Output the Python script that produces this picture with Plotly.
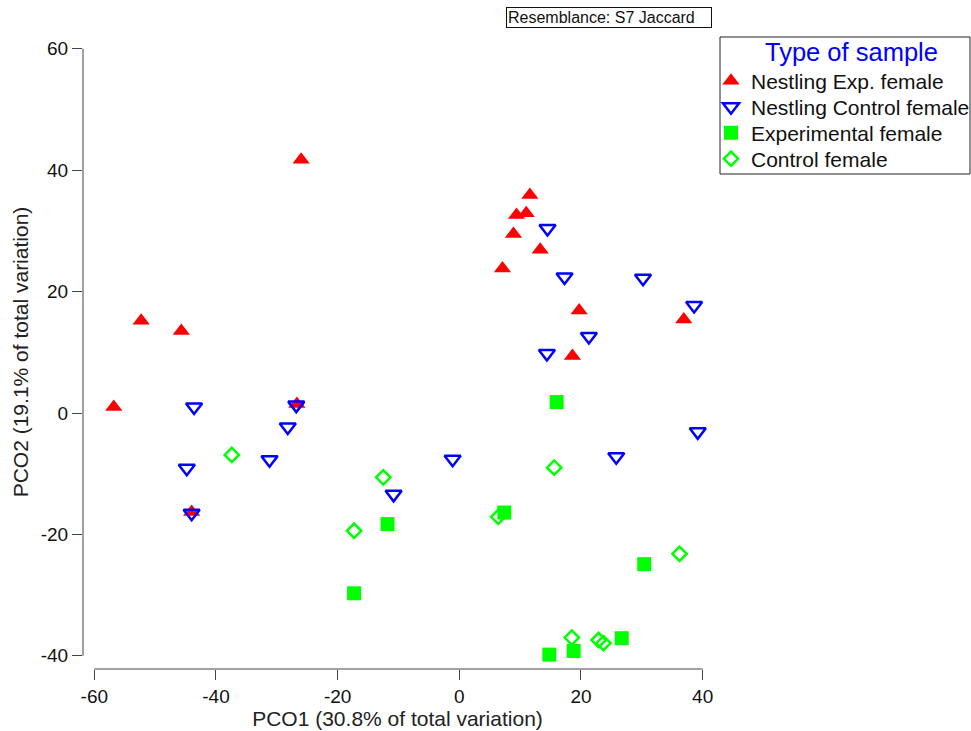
import plotly.graph_objects as go

# PCO ordination scores per sample group
nestling_exp_x = [-26.0, -52.3, -45.7, -56.8, -26.7, -44.0, 11.6, 9.4, 11.0, 8.9, 13.3, 7.1, 19.7, 18.6, 36.9]
nestling_exp_y = [41.7, 15.2, 13.5, 1.0, 1.5, -16.3, 35.9, 32.6, 32.9, 29.5, 26.9, 23.8, 16.9, 9.4, 15.4]

nestling_ctrl_x = [-43.6, -44.8, -44.0, -26.8, -28.2, -31.2, -1.1, -10.8, 25.8, 39.2, 14.5, 17.3, 30.2, 38.6, 21.3, 14.4]
nestling_ctrl_y = [1.0, -9.1, -16.5, 1.3, -2.3, -7.7, -7.6, -13.4, -7.2, -3.1, 30.4, 22.4, 22.2, 17.7, 12.6, 9.8]

exp_female_x = [16.0, 7.4, -11.8, -17.3, 30.4, 26.7, 18.8, 14.8]
exp_female_y = [1.8, -16.4, -18.3, -29.7, -24.9, -37.1, -39.2, -39.8]

ctrl_female_x = [-37.4, -17.3, -12.5, 15.6, 6.4, 36.2, 18.5, 22.9, 23.7]
ctrl_female_y = [-6.9, -19.4, -10.6, -9.0, -17.1, -23.2, -37.0, -37.4, -37.9]

group_names = ["Nestling Exp. female", "Nestling Control female", "Experimental female", "Control female"]
x_tick_values = [-60, -40, -20, 0, 20, 40]
y_tick_values = [-40, -20, 0, 20, 40, 60]

W, H = 971, 731
ML, MR, MT, MB = 83, 259, 35, 62
PW, PH = W - ML - MR, H - MT - MB
X_RANGE = [-61.86, 41.54]
Y_RANGE = [-42.17, 62.27]

FONT = "Liberation Sans, Arial, sans-serif"

# one legend box per group so rows can sit at a fixed pitch
LEGEND_ROW_Y = [81, 107, 133, 159]
LEGEND_KEYS = ["legend", "legend2", "legend3", "legend4"]


def px_to_paper_x(px):
    return (px - ML) / PW


def px_to_paper_y(py):
    return (H - MB - py) / PH


def hyphen_labels(vals):
    return [str(v) for v in vals]


fig = go.Figure()

fig.add_trace(go.Scatter(
    x=nestling_exp_x, y=nestling_exp_y, mode="markers", name=group_names[0],
    legend=LEGEND_KEYS[0],
    marker=dict(symbol="triangle-up", size=15, color="#ff0000", line=dict(width=0)),
))
fig.add_trace(go.Scatter(
    x=nestling_ctrl_x, y=nestling_ctrl_y, mode="markers", name=group_names[1],
    legend=LEGEND_KEYS[1],
    marker=dict(symbol="triangle-down-open", size=14, color="#0000ff", line=dict(width=2.5)),
))
fig.add_trace(go.Scatter(
    x=exp_female_x, y=exp_female_y, mode="markers", name=group_names[2],
    legend=LEGEND_KEYS[2],
    marker=dict(symbol="square", size=14, color="#00ff00", line=dict(width=0)),
))
fig.add_trace(go.Scatter(
    x=ctrl_female_x, y=ctrl_female_y, mode="markers", name=group_names[3],
    legend=LEGEND_KEYS[3],
    marker=dict(symbol="diamond-open", size=11, color="#00ff00", line=dict(width=2.5)),
))

axis_common = dict(
    showgrid=False, zeroline=False, showline=False,
    ticks="outside", ticklen=10, tickwidth=1, tickcolor="#444",
    tickfont=dict(family=FONT, size=19, color="#111"),
)

fig.update_xaxes(
    range=X_RANGE, tickvals=x_tick_values, ticktext=hyphen_labels(x_tick_values), **axis_common,
    title=dict(text="PCO1 (30.8% of total variation)", font=dict(family=FONT, size=21, color="#222"), standoff=2),
)
fig.update_yaxes(
    range=Y_RANGE, tickvals=y_tick_values, ticktext=hyphen_labels(y_tick_values), **axis_common,
    title=dict(text="PCO2 (19.1% of total variation)", font=dict(family=FONT, size=21, color="#222"), standoff=6),
)

# Axis lines that span only the labelled tick range
fig.add_shape(type="line", xref="x", yref="paper", x0=-60, x1=40, y0=0, y1=0,
              line=dict(color="#444", width=1))
fig.add_shape(type="line", xref="paper", yref="y", x0=0, x1=0, y0=-40, y1=60,
              line=dict(color="#444", width=1))

# Legend frame
fig.add_shape(type="rect", xref="paper", yref="paper",
              x0=px_to_paper_x(720), x1=px_to_paper_x(970),
              y0=px_to_paper_y(174), y1=px_to_paper_y(37),
              line=dict(color="#222", width=1), fillcolor="white", layer="below")

fig.add_annotation(
    text="Type of sample", xref="paper", yref="paper",
    x=px_to_paper_x(851), y=px_to_paper_y(52), xanchor="center", yanchor="middle",
    showarrow=False, font=dict(family=FONT, size=25.5, color="#0000ff"),
)

fig.add_annotation(
    text="Resemblance: S7 Jaccard", xref="paper", yref="paper",
    x=px_to_paper_x(506), y=px_to_paper_y(7), xanchor="left", yanchor="top",
    showarrow=False, width=202, height=17, align="left",
    bordercolor="#111", borderwidth=1, borderpad=1,
    font=dict(family=FONT, size=16, color="#111"),
)

legend_layout = {}
for key, row_y in zip(LEGEND_KEYS, LEGEND_ROW_Y):
    legend_layout[key] = dict(
        xref="container", yref="container",
        x=711 / W, y=1 - row_y / H, xanchor="left", yanchor="middle",
        font=dict(family=FONT, size=21, color="#111"),
        bgcolor="rgba(0,0,0,0)", borderwidth=0, itemsizing="trace",
    )

fig.update_layout(
    width=W, height=H,
    margin=dict(l=ML, r=MR, t=MT, b=MB, autoexpand=False),
    paper_bgcolor="white", plot_bgcolor="white",
    showlegend=True,
    **legend_layout,
)

fig.write_html("out.html")
